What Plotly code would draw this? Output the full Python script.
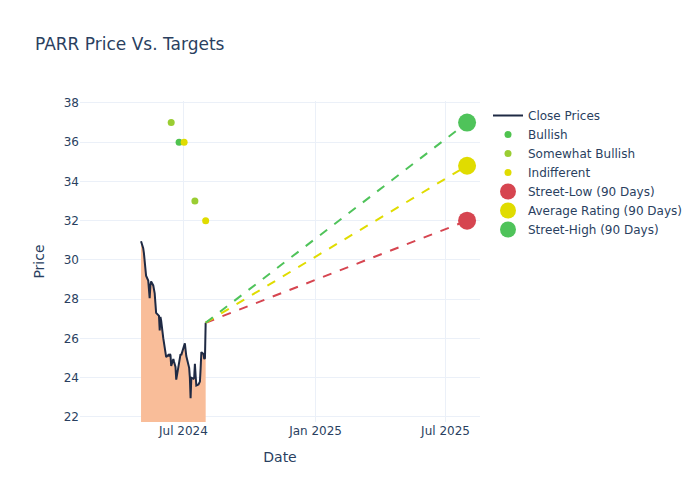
import pandas as pd
import plotly.graph_objects as go

# ---- data ----
holidays = ["2024-05-27", "2024-06-19", "2024-07-04"]
price_dates = pd.bdate_range("2024-05-03", "2024-08-01", freq="C", holidays=holidays)
close_prices = [
    30.95, 30.6, 30.35, 30.0, 29.6, 29.2,
    28.95, 28.6, 28.05, 28.7, 28.9,
    28.7, 28.55, 28.3, 27.8, 27.3,
    27.15, 26.4, 27.1, 26.9,
    26.0, 25.7, 25.5, 25.1, 25.05,
    25.15, 25.1, 25.2, 25.15, 24.6,
    24.95, 24.8, 24.55, 23.9,
    24.5, 24.6, 24.9, 25.2, 25.15,
    25.5, 25.6, 25.75, 25.1,
    24.6, 24.5, 24.0, 22.95, 24.0,
    23.95, 24.0, 24.7, 24.1, 23.6,
    23.65, 23.7, 23.8, 24.5, 25.3,
    25.2, 24.95, 25.0, 26.8,
]

bullish_dates = ["2024-06-25"]
bullish_targets = [36]
somewhat_bullish_dates = ["2024-06-14", "2024-07-17"]
somewhat_bullish_targets = [37, 33]
indifferent_dates = ["2024-07-02", "2024-08-01"]
indifferent_targets = [36, 32]

target_date = "2025-07-31"
street_low = 32.0
average_rating = 34.8
street_high = 37.0

fig = go.Figure()

fig.add_trace(go.Scatter(
    x=price_dates, y=close_prices, mode="lines", showlegend=False, hoverinfo="skip",
    line=dict(width=0), fill="tozeroy", fillcolor="#F9BD99",
))
fig.add_trace(go.Scatter(
    x=price_dates, y=close_prices, mode="lines", name="Close Prices",
    line=dict(color="#1f2a44", width=2),
))

fig.add_trace(go.Scatter(x=bullish_dates, y=bullish_targets, mode="markers", name="Bullish",
                         marker=dict(color="#4fc34f", size=7)))
fig.add_trace(go.Scatter(x=somewhat_bullish_dates, y=somewhat_bullish_targets, mode="markers",
                         name="Somewhat Bullish", marker=dict(color="#9acd32", size=7)))
fig.add_trace(go.Scatter(x=indifferent_dates, y=indifferent_targets, mode="markers",
                         name="Indifferent", marker=dict(color="#e0dc00", size=7)))

last_date = price_dates[-1]
last_price = close_prices[-1]
for val, col in [(street_low, "#d64550"), (average_rating, "#e0dc00"), (street_high, "#4fc35a")]:
    fig.add_trace(go.Scatter(x=[last_date, target_date], y=[last_price, val], mode="lines",
                             line=dict(color=col, dash="dash", width=2), showlegend=False,
                             hoverinfo="skip"))

fig.add_trace(go.Scatter(x=[target_date], y=[street_low], mode="markers", name="Street-Low (90 Days)",
                         marker=dict(color="#d64550", size=18)))
fig.add_trace(go.Scatter(x=[target_date], y=[average_rating], mode="markers", name="Average Rating (90 Days)",
                         marker=dict(color="#e0dc00", size=18)))
fig.add_trace(go.Scatter(x=[target_date], y=[street_high], mode="markers", name="Street-High (90 Days)",
                         marker=dict(color="#4fc35a", size=18)))

fig.update_layout(
    template="plotly_white",
    width=684, height=484,
    autosize=False,
    margin=dict(l=72, r=212, t=93, b=70, autoexpand=False),
    font=dict(family="DejaVu Sans"),
    title=dict(text="PARR Price Vs. Targets", x=27 / 684, xanchor="left",
               y=1 - 36 / 484, yanchor="middle", xref="container", yref="container"),
    xaxis=dict(title="Date", range=["2024-02-08", "2025-08-18"], dtick="M6", tick0="2024-01-01",
               tickformat="%b %Y"),
    yaxis=dict(title="Price", range=[21.74, 38.1]),
)

fig.write_html("out.html")
